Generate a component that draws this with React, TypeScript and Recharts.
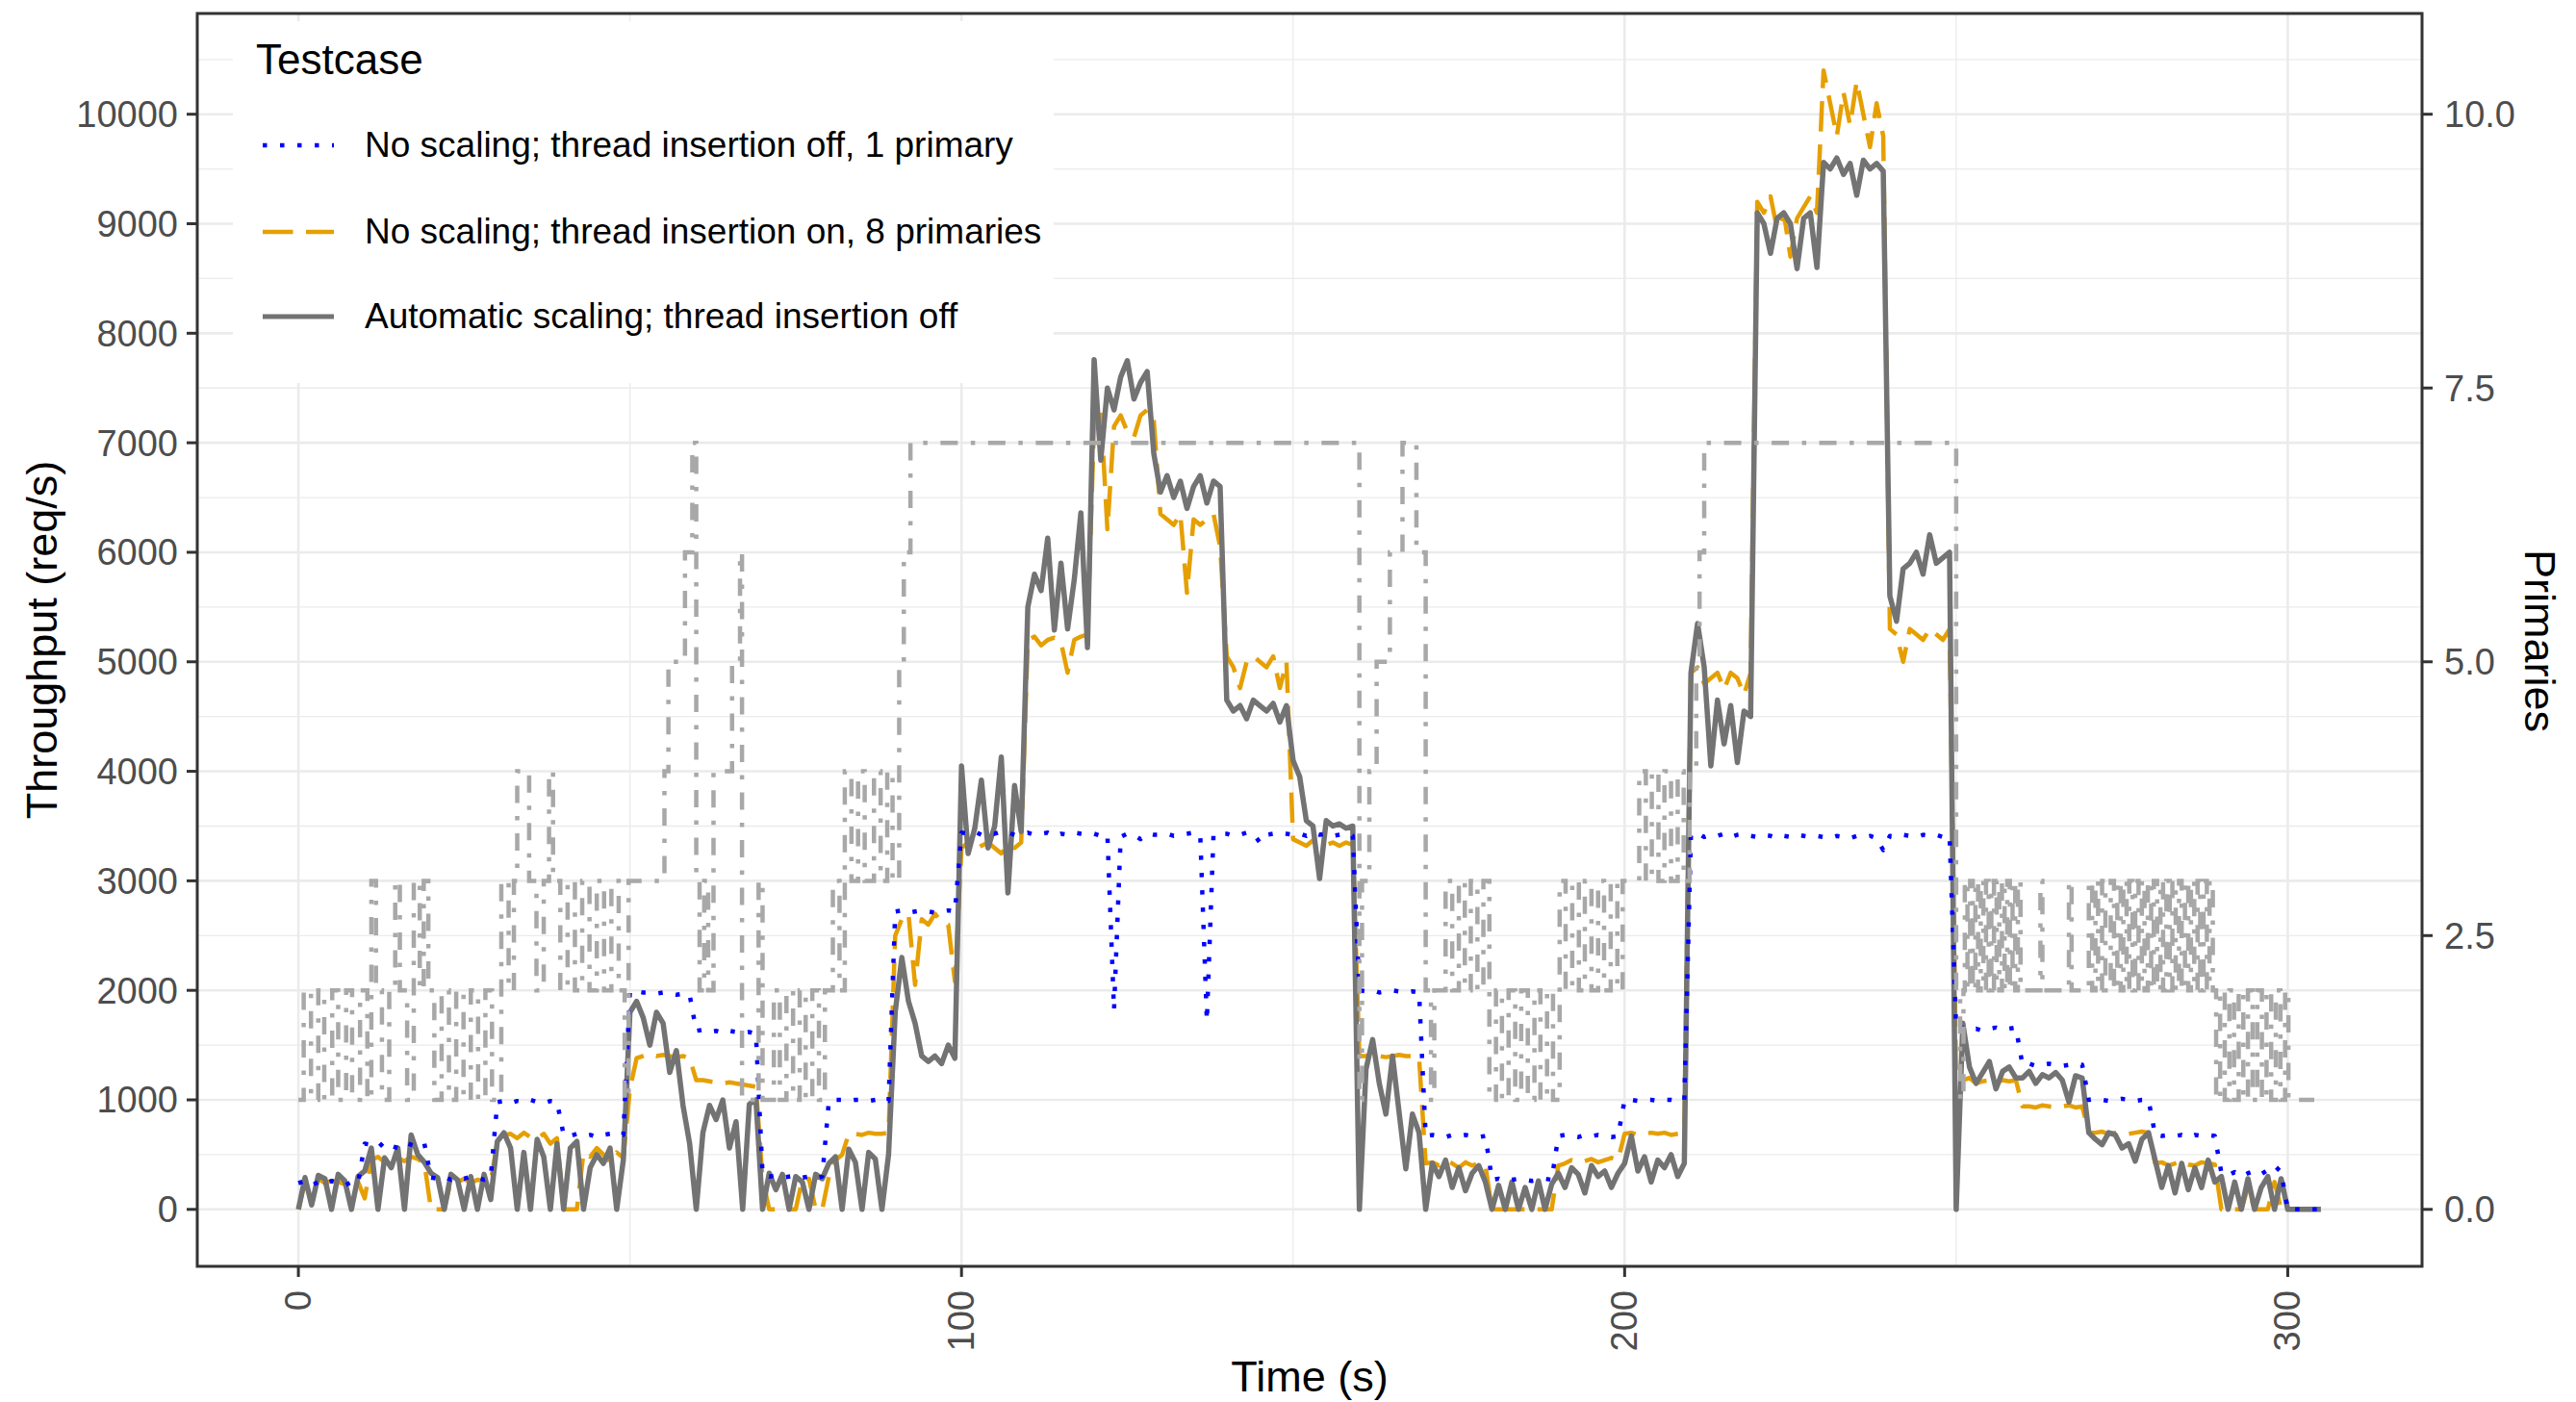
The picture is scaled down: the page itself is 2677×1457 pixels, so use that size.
import { CartesianGrid, Line, LineChart, XAxis, YAxis } from "recharts";

// one sample per second, t = 0 .. 305
const SECONDS = Array.from({ length: 306 }, (_, i) => i);

// No scaling; thread insertion off, 1 primary
const ONE_PRIMARY = [
  240, 260, 220, 250, 230, 260, 240, 220, 250, 240,
  600, 590, 560, 620, 580, 560, 610, 590, 570, 600,
  290, 280, 300, 270, 290, 280, 300, 290, 270, 290,
  980, 990, 970, 990, 980, 1000, 980, 970, 990, 980,
  680, 670, 690, 670, 680, 660, 680, 690, 670, 680,
  1990, 1990, 1980, 1980, 1970, 1980, 1970, 1960, 1970, 1960,
  1630, 1640, 1620, 1630, 1610, 1630, 1620, 1610, 1620, 1600,
  320, 300, 310, 290, 300, 310, 290, 300, 280, 300,
  990, 1000, 1000, 990, 1000, 1000, 990, 1000, 1000, 990,
  2720, 2730, 2710, 2720, 2730, 2720, 2710, 2720, 2730, 2720,
  3440, 3430, 3450, 3420, 3440, 3430, 3450, 3440, 3420, 3430,
  3440, 3420, 3430, 3440, 3410, 3430, 3420, 3440, 3430, 3420,
  3430, 3410, 3420, 1820, 3400, 3430, 3420, 3380, 3430, 3420,
  3420, 3430, 3410, 3420, 3430, 3440, 3420, 1720, 3420, 3430,
  3430, 3410, 3420, 3440, 3430, 3350, 3420, 3430, 3440, 3430,
  3420, 3430, 3410, 3440, 3420, 3430, 3410, 3420, 3430, 3410,
  2000, 1990, 2000, 1980, 1990, 2000, 1990, 1980, 1990, 1980,
  670, 680, 670, 660, 680, 670, 680, 670, 660, 670,
  270, 280, 260, 270, 280, 270, 260, 270, 280, 270,
  670, 680, 670, 660, 680, 670, 680, 670, 660, 670,
  1000, 1000, 990, 1000, 1000, 990, 1000, 1000, 990, 1000,
  3420, 3440, 3400, 3420, 3410, 3430, 3400, 3420, 3430, 3410,
  3400, 3420, 3410, 3390, 3410, 3400, 3420, 3410, 3400, 3410,
  3400, 3390, 3410, 3400, 3390, 3410, 3400, 3410, 3390, 3280,
  3410, 3400, 3420, 3410, 3400, 3420, 3410, 3420, 3400, 3410,
  1650, 1660, 1640, 1650, 1630, 1650, 1660, 1640, 1650, 1660,
  1320, 1330, 1310, 1320, 1330, 1320, 1310, 1320, 1330, 1320,
  1000, 1010, 1000, 990, 1000, 1010, 1000, 990, 1000, 1000,
  680, 670, 680, 670, 680, 660, 680, 670, 680, 670,
  330, 310, 340, 300, 330, 350, 320, 360, 400, 340,
  0, 0, 0, 0, 0, 0,
];

// No scaling; thread insertion on, 8 primaries
const EIGHT_PRIMARIES = [
  0, 250, 230, 280, 240, 260, 250, 230, 270, 250,
  100, 450, 480, 430, 500, 470, 440, 480, 460, 420,
  0, 0, 0, 260, 250, 280, 240, 270, 260, 250,
  620, 680, 690, 650, 700, 660, 640, 690, 600, 650,
  0, 0, 0, 520, 480, 560, 500, 430, 520, 470,
  1100, 1380, 1400, 1420, 1400, 1410, 1400, 1390, 1400, 1380,
  1180, 1180, 1170, 1160, 1150, 1160, 1150, 1140, 1130, 1120,
  280, 0, 0, 0, 0, 0, 280, 280, 0, 0,
  300, 450, 500, 690, 690, 680, 700, 690, 690, 700,
  2500, 2650, 2700, 2050, 2650, 2600, 2700, 2620, 2600, 2080,
  3300, 3350, 3280, 3320, 3350, 3300, 3250, 3330, 3300, 3350,
  5200, 5230, 5150, 5200, 5220, 5180, 4900, 5200, 5230, 5250,
  7200, 7300, 6210, 7150, 7250, 7100, 7050, 7250, 7300, 7200,
  6350, 6300, 6250, 6350, 5630, 6300, 6250, 6300, 6350, 6050,
  5050, 4950, 4760, 5000, 5050, 5000, 4950, 5050, 4760, 5000,
  3380, 3350, 3320, 3370, 3350, 3330, 3350, 3320, 3350, 3330,
  1400, 1400, 1420, 1400, 1390, 1400, 1410, 1400, 1400, 1390,
  420, 430, 400, 450, 420, 380, 430, 400, 420, 400,
  0, 0, 0, 0, 0, 0, 0, 0, 0, 0,
  400, 420, 450, 430, 440, 460, 430, 450, 470, 450,
  690, 700, 680, 690, 700, 690, 700, 680, 690, 700,
  4900, 4950, 4800, 4850, 4900, 4750, 4900, 4850, 4700, 4900,
  9200, 9100, 9250, 8950, 9100, 8700, 9050, 9150, 9250, 9100,
  10400, 10100, 9800, 10200, 9900, 10300, 10000, 9700, 10100, 9800,
  5300, 5250, 5000, 5300, 5250, 5200, 5300, 5250, 5200, 5300,
  1180, 1180, 1200, 1150, 1170, 1180, 1160, 1180, 1170, 1180,
  940, 940, 930, 950, 940, 930, 940, 950, 930, 940,
  700, 700, 710, 690, 700, 700, 690, 700, 710, 700,
  420, 430, 400, 420, 440, 410, 400, 430, 420, 410,
  0, 0, 0, 0, 200, 0, 0, 0, 250, 0,
  0, 0, 0, 0, 0, 0,
];

// Automatic scaling; thread insertion off
const AUTO_SCALING = [
  0, 290, 40, 310, 280, 0, 320, 260, 0, 300,
  350, 560, 0, 470, 380, 560, 0, 680, 500, 430,
  330, 290, 0, 320, 270, 0, 300, 0, 320, 90,
  620, 700, 560, 0, 520, 0, 640, 480, 0, 600,
  0, 560, 620, 0, 380, 500, 420, 560, 0, 450,
  1800, 1900, 1750, 1500, 1800, 1700, 1250, 1450, 950, 600,
  0, 700, 950, 820, 1000, 560, 800, 0, 960, 1000,
  0, 330, 180, 320, 0, 300, 250, 0, 320, 280,
  420, 480, 0, 550, 430, 0, 520, 460, 0, 500,
  1800, 2300, 1900, 1700, 1400, 1350, 1400, 1330, 1500, 1380,
  4050, 3250, 3480, 3920, 3300, 3500, 4130, 2890, 3870, 3450,
  5500, 5800, 5650, 6130, 5290, 5900, 5300, 5750, 6360, 5130,
  7760, 6840, 7500, 7300, 7600, 7750, 7400, 7550, 7650, 6900,
  6550, 6700, 6500, 6650, 6400, 6600, 6700, 6450, 6650, 6600,
  4650, 4550, 4600, 4480, 4650, 4600, 4550, 4620, 4450, 4600,
  4100, 3950, 3550, 3500, 3020, 3550, 3500, 3520, 3480, 3500,
  0, 1280, 1550, 1150, 870, 1400, 880, 370, 870, 700,
  0, 420, 300, 450, 200, 380, 170, 330, 400, 250,
  0, 220, 0, 250, 0, 200, 0, 260, 0, 230,
  330, 200, 380, 320, 150, 400, 300, 350, 200, 330,
  420, 670, 350, 480, 250, 450, 380, 500, 300, 420,
  4900, 5350, 4950, 4050, 4650, 4250, 4600, 4080, 4550, 4500,
  9100, 9000, 8730, 9050, 9100, 9000, 8590, 9050, 9100, 8600,
  9560, 9500, 9600, 9450, 9550, 9260, 9580, 9500, 9550, 9480,
  5600, 5370, 5850, 5900, 6000, 5800, 6160, 5900, 5950, 6000,
  0, 1700, 1300, 1150, 1250, 1350, 1100, 1260, 1300, 1200,
  1200, 1260, 1150, 1230, 1200, 1250, 1180, 980, 1220, 1200,
  700, 640, 590, 700, 680, 560, 600, 440, 640, 700,
  450, 200, 400, 150, 420, 180, 380, 200, 450, 250,
  300, 0, 250, 0, 280, 0, 200, 300, 0, 280,
  0, 0, 0, 0, 0, 0,
];

// primaries of the automatic-scaling run: [time (s), primaries] at each change
const PRIMARY_CHANGES = [
  [0, 1], [0.8, 2], [1.9, 1], [3, 2], [3.9, 1], [5.1, 2], [6, 1], [7.2, 2], [8.1, 1], [9.3, 2],
  [10.4, 1], [11, 3], [11.7, 2], [12.6, 1], [13.7, 2], [14.6, 3], [15.3, 2], [16.4, 1], [17.4, 3], [18.3, 2],
  [18.9, 3], [19.6, 2], [20.5, 1], [21.6, 2], [22.7, 1], [23.8, 2], [24.9, 1], [26, 2], [27.1, 1], [28.2, 2],
  [29.2, 1], [30.6, 3], [31.7, 2], [32.5, 3], [33, 4], [34.8, 3], [35.9, 2], [37, 3], [37.8, 4], [38.4, 3],
  [39.5, 2], [40.6, 3], [41.7, 2], [42.8, 3], [43.9, 2], [45, 3], [46.1, 2], [47.2, 3], [48.3, 2], [49.2, 1],
  [49.8, 3], [55.2, 4], [55.8, 5], [58.3, 6], [59.4, 7], [60, 3], [60.5, 2], [61.2, 3], [61.8, 2], [62.6, 4],
  [65.4, 5], [66.6, 6], [66.9, 1], [69.4, 3], [70, 1], [71.7, 2], [72.6, 1], [73.6, 2], [74.6, 1], [75.6, 2],
  [76.5, 1], [77.5, 2], [78.5, 1], [79.4, 2], [80.6, 3], [81.6, 2], [82.4, 4], [83.4, 3], [84.4, 4], [85.4, 3],
  [86.8, 4], [87.8, 3], [88.8, 4], [89.6, 3], [90.6, 5], [91.3, 6], [92.3, 7],
  [160, 1], [160.4, 3], [161.5, 4], [162.6, 5], [164.6, 6], [166.5, 7], [168.6, 6], [170, 2], [170.8, 1], [171.3, 2],
  [173, 3], [174, 2], [175, 3], [175.9, 2], [176.8, 3], [177.8, 2], [178.7, 3], [179.6, 1], [180.6, 2], [181.5, 1],
  [182.5, 2], [183.5, 1], [184.4, 2], [185.4, 1], [186.4, 2], [187.3, 1], [188.3, 2], [189.2, 1], [190.2, 3], [191.1, 2],
  [192.1, 3], [193.1, 2], [194, 3], [195, 2], [196, 3], [196.9, 2], [197.9, 3], [198.9, 2], [199.7, 3], [202.2, 4],
  [203.2, 3], [204.1, 4], [205.1, 3], [206, 4], [207, 3], [208, 4], [208.9, 3], [209.8, 4], [210.8, 5], [211.3, 6],
  [212, 7], [250, 2], [250.6, 1], [251.1, 2],
  [251.3, 3], [251.7, 2], [252.1, 3], [252.5, 2], [252.9, 3], [253.3, 2], [253.7, 3], [254.1, 2], [254.5, 3], [254.9, 2],
  [255.3, 3], [255.7, 2], [256.1, 3], [256.5, 2], [256.9, 3], [257.3, 2], [257.7, 3], [258.1, 2], [258.5, 3], [258.9, 2],
  [259.3, 3], [259.7, 2], [262.7, 3], [263, 2], [267, 3], [267.4, 2], [270, 3], [270.5, 2], [271, 3], [271.4, 2],
  [272, 3], [272.5, 2], [273.3, 3], [273.8, 2], [274.3, 3], [274.8, 2], [275.2, 3], [275.7, 2], [276.1, 3], [276.6, 2],
  [277, 3], [277.5, 2], [278, 3], [278.4, 2], [278.9, 3], [279.4, 2], [279.8, 3], [280.3, 2], [280.8, 3], [281.2, 2],
  [281.7, 3], [282.2, 2], [282.6, 3], [283.1, 2], [283.6, 3], [284, 2], [284.5, 3], [285, 2], [285.4, 3], [285.9, 2],
  [286.4, 3], [286.8, 2], [287.3, 3], [287.8, 2], [288.2, 3], [288.7, 2], [289.2, 1], [289.8, 2], [290.5, 1], [291.2, 2],
  [291.9, 1], [292.6, 2], [293.3, 1], [294, 2], [294.7, 1], [295.4, 2], [296.1, 1], [296.8, 2], [297.5, 1], [298.2, 2],
  [298.9, 1], [299.6, 2], [300.1, 1], [304, 1],
];

const X_TICKS = [0, 100, 200, 300];
const X_MINOR = [50, 150, 250];
const Y_TICKS = [0, 1000, 2000, 3000, 4000, 5000, 6000, 7000, 8000, 9000, 10000];
const Y_MINOR = [500, 1500, 2500, 3500, 4500, 5500, 6500, 7500, 8500, 9500, 10500];
const PRIMARY_TICKS = [0, 2.5, 5, 7.5, 10];

const SERIES = [
  { key: "one", name: "No scaling; thread insertion off, 1 primary", color: "#0000FF", dash: "4.5 13.5", width: 4.5 },
  { key: "eight", name: "No scaling; thread insertion on, 8 primaries", color: "#E69F00", dash: "31.5 13.5", width: 4.5 },
  { key: "auto", name: "Automatic scaling; thread insertion off", color: "#737373", dash: undefined, width: 5 },
];

const FONT = "'Liberation Sans', Arial, Helvetica, sans-serif";
const W = 2677;
const H = 1457;

const rows = SECONDS.map((t, i) => ({
  t,
  one: ONE_PRIMARY[i],
  eight: EIGHT_PRIMARIES[i],
  auto: AUTO_SCALING[i],
}));
const primaryRows = PRIMARY_CHANGES.map(([t, p]) => ({ t, p }));

function TimeTick({ x, y, payload }: any) {
  return (
    <text
      x={x}
      y={y}
      transform={`rotate(-90 ${x} ${y})`}
      textAnchor="end"
      dominantBaseline="central"
      fill="#4d4d4d"
      fontSize={38}
      fontFamily={FONT}
    >
      {payload.value}
    </text>
  );
}

function Overlay() {
  const keyY = [151, 241, 329];
  return (
    <svg
      width={W}
      height={H}
      style={{ position: "absolute", left: 0, top: 0, pointerEvents: "none" }}
      fontFamily={FONT}
    >
      <rect x={242} y={22} width={853} height={376} fill="#ffffff" />
      <text x={266} y={77} fontSize={44} fill="#000">Testcase</text>
      {SERIES.map((s, i) => (
        <g key={s.key}>
          <line
            x1={273}
            x2={347}
            y1={keyY[i]}
            y2={keyY[i]}
            stroke={s.color}
            strokeWidth={s.width}
            strokeDasharray={s.dash}
          />
          <text x={379} y={keyY[i] + 12} fontSize={37} fill="#000">{s.name}</text>
        </g>
      ))}
      <rect x={205} y={14} width={2312} height={1302} fill="none" stroke="#333333" strokeWidth={3} />
      <text x={1361} y={1446} fontSize={45} textAnchor="middle" fill="#000">Time (s)</text>
      <text x={59} y={665} fontSize={45} textAnchor="middle" fill="#000" transform="rotate(-90 59 665)">
        Throughput (req/s)
      </text>
      <text x={2624} y={666} fontSize={45} textAnchor="middle" fill="#000" transform="rotate(90 2624 666)">
        Primaries
      </text>
    </svg>
  );
}

export default function App() {
  const tickStyle = { fill: "#4d4d4d", fontSize: 38, fontFamily: FONT };
  return (
    <div style={{ position: "absolute", left: 0, top: 0, width: W, height: H, background: "#fff", fontFamily: FONT }}>
      <LineChart width={W} height={H} data={rows} margin={{ top: 14, right: 10, bottom: 41, left: 55 }}>
        <CartesianGrid
          yAxisId="left"
          horizontalValues={Y_MINOR}
          verticalValues={X_MINOR}
          stroke="#ebebeb"
          strokeWidth={1.3}
        />
        <CartesianGrid
          yAxisId="left"
          horizontalValues={Y_TICKS}
          verticalValues={X_TICKS}
          stroke="#ebebeb"
          strokeWidth={2.6}
        />
        <XAxis
          dataKey="t"
          type="number"
          domain={[-15.25, 320.25]}
          ticks={X_TICKS}
          allowDataOverflow
          height={100}
          axisLine={false}
          tickLine={{ stroke: "#333333", strokeWidth: 3 }}
          tickSize={11}
          tickMargin={14}
          tick={<TimeTick />}
          interval={0}
        />
        <YAxis
          yAxisId="left"
          orientation="left"
          type="number"
          domain={[-520, 10920]}
          ticks={Y_TICKS}
          allowDataOverflow
          width={150}
          axisLine={false}
          tickLine={{ stroke: "#333333", strokeWidth: 3 }}
          tickSize={11}
          tickMargin={9}
          tick={tickStyle}
          interval={0}
        />
        <YAxis
          yAxisId="right"
          orientation="right"
          type="number"
          domain={[-0.52, 10.92]}
          ticks={PRIMARY_TICKS}
          allowDataOverflow
          width={150}
          axisLine={false}
          tickLine={{ stroke: "#333333", strokeWidth: 3 }}
          tickSize={11}
          tickMargin={12}
          tick={{ ...tickStyle, textAnchor: "start" }}
          tickFormatter={(v: number) => v.toFixed(1)}
          interval={0}
        />
        <Line
          yAxisId="left"
          dataKey="eight"
          type="linear"
          stroke="#E69F00"
          strokeWidth={4.5}
          strokeDasharray="31.5 13.5"
          strokeLinejoin="round"
          dot={false}
          activeDot={false}
          isAnimationActive={false}
        />
        <Line
          yAxisId="left"
          dataKey="auto"
          type="linear"
          stroke="#737373"
          strokeWidth={5.5}
          strokeLinejoin="round"
          dot={false}
          activeDot={false}
          isAnimationActive={false}
        />
        <Line
          yAxisId="left"
          dataKey="one"
          type="linear"
          stroke="#0000FF"
          strokeWidth={4.5}
          strokeDasharray="4.5 13.5"
          strokeLinejoin="round"
          dot={false}
          activeDot={false}
          isAnimationActive={false}
        />
        <Line
          yAxisId="right"
          data={primaryRows}
          dataKey="p"
          type="stepAfter"
          stroke="#a8a8a8"
          strokeWidth={4.5}
          strokeDasharray="18 13.5 4.5 13.5"
          dot={false}
          activeDot={false}
          isAnimationActive={false}
        />
      </LineChart>
      <Overlay />
    </div>
  );
}
